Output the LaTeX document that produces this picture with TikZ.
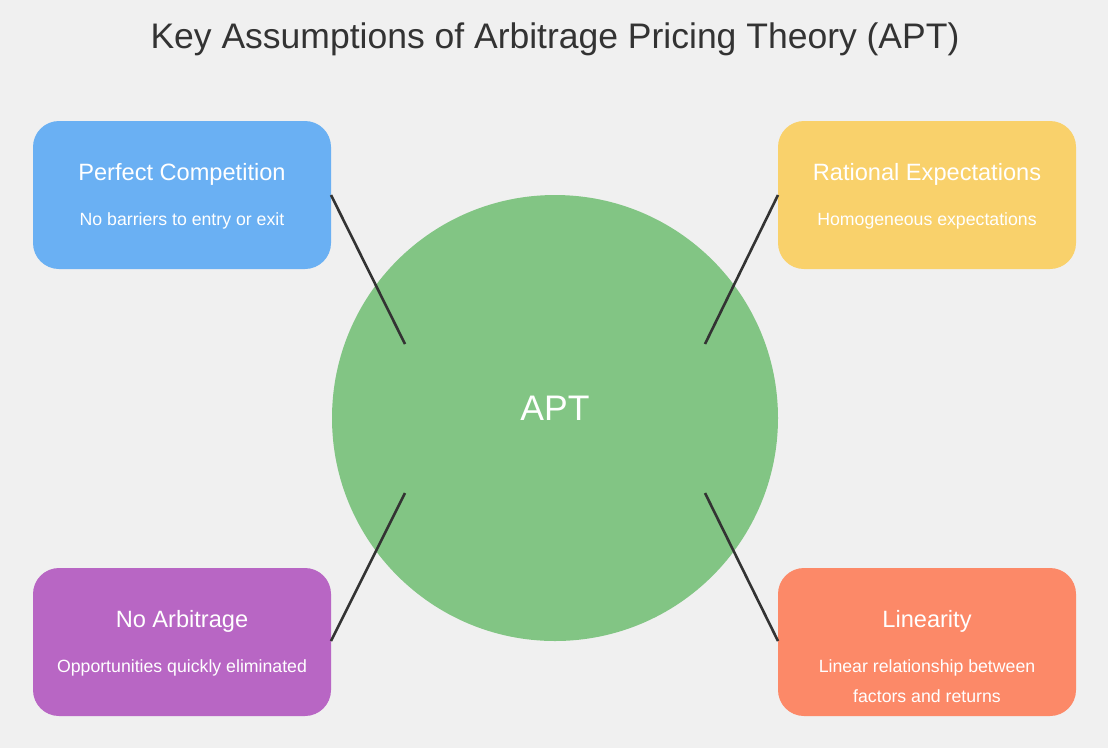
\documentclass[tikz,border=0pt]{standalone}
\usepackage{fontspec}
\setmainfont{Liberation Sans}
\definecolor{bg}{HTML}{F0F0F0}
\definecolor{ink}{HTML}{333333}
\definecolor{cblue}{HTML}{6AB0F3}
\definecolor{cyellow}{HTML}{F9D16B}
\definecolor{cpurple}{HTML}{B866C4}
\definecolor{corange}{HTML}{FC8968}
\definecolor{cgreen}{HTML}{82C584}
\tikzset{
  box/.style={rounded corners=26pt, minimum width=298pt, minimum height=148pt, inner sep=0pt, draw=none},
  boxtitle/.style={text=white, font=\fontsize{23.6}{28}\selectfont, anchor=base},
  boxtext/.style={text=white, font=\fontsize{17.7}{21}\selectfont, anchor=base},
  conn/.style={draw=ink, line width=2.6pt},
}
\begin{document}
\begin{tikzpicture}[x=1pt,y=-1pt]
\fill[bg] (0,0) rectangle (1108,748);
\useasboundingbox (0,0) rectangle (1108,748);
\node[text=ink, font=\fontsize{35.5}{40}\selectfont, anchor=base] (title) at (555,48) {Key Assumptions of Arbitrage Pricing Theory (APT)};
\node[circle, fill=cgreen, minimum size=446pt, inner sep=0pt] (apt) at (555,418) {};
\node[text=white, font=\fontsize{35.5}{40}\selectfont, anchor=base] (apttext) at (555,420) {APT};

\node[box, fill=cblue] (pc) at (182,195) {};
\node[boxtitle] (pct) at (182,180) {Perfect Competition};
\node[boxtext] (pcs) at (182,225) {No barriers to entry or exit};

\node[box, fill=cyellow] (re) at (927,195) {};
\node[boxtitle] (ret) at (927,180) {Rational Expectations};
\node[boxtext] (res) at (927,225) {Homogeneous expectations};

\node[box, fill=cpurple] (na) at (182,642) {};
\node[boxtitle] (nat) at (182,627) {No Arbitrage};
\node[boxtext] (nas) at (182,672) {Opportunities quickly eliminated};

\node[box, fill=corange] (li) at (927,642) {};
\node[boxtitle] (lit) at (927,627) {Linearity};
\node[boxtext] (lis1) at (927,672) {Linear relationship between};
\node[boxtext] (lis2) at (927,702) {factors and returns};

\coordinate (a1) at (331,195); \coordinate (b1) at (405,344);
\coordinate (a2) at (778,195); \coordinate (b2) at (705,344);
\coordinate (a3) at (331,641); \coordinate (b3) at (405,493);
\coordinate (a4) at (778,641); \coordinate (b4) at (705,493);
\draw[conn] (a1) -- (b1);
\draw[conn] (a2) -- (b2);
\draw[conn] (a3) -- (b3);
\draw[conn] (a4) -- (b4);
\end{tikzpicture}
\end{document}
